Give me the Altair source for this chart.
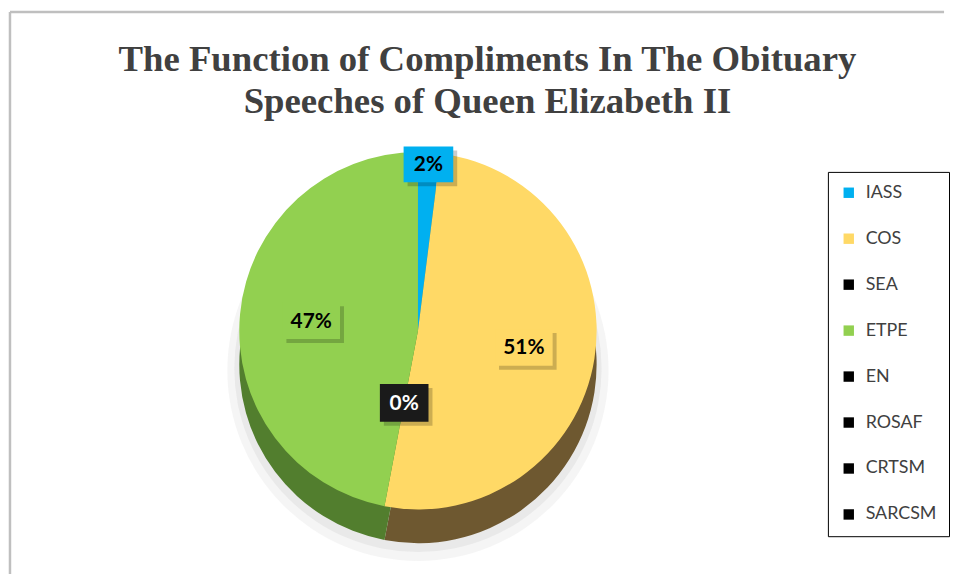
import altair as alt
import pandas as pd

# ---- data ----
categories = ["IASS", "COS", "SEA", "ETPE", "EN", "ROSAF", "CRTSM", "SARCSM"]
shares = [2, 51, 0, 47, 0, 0, 0, 0]
top_colors = ["#00B0F0", "#FFD966", "#000000", "#92D050", "#000000", "#000000", "#000000", "#000000"]
side_colors = ["#00769F", "#6E5830", "#000000", "#527E2E", "#000000", "#000000", "#000000", "#000000"]
title_lines = ["The Function of Compliments In The Obituary", "Speeches of Queen Elizabeth II"]

df = pd.DataFrame({"cat": categories, "share": shares, "idx": list(range(len(categories)))})
one = pd.DataFrame({"k": [0]})

W, H = 942, 567
CX, CY, R, DEPTH = 412, 322, 180, 34

# soft shadow under the pie
shadow1 = alt.Chart(one).mark_arc(theta=0, theta2=6.2832, radius=R + 12, color="#e3e3e3", opacity=0.35).encode(
    x=alt.value(CX), y=alt.value(CY + DEPTH + 6))
shadow2 = alt.Chart(one).mark_arc(theta=0, theta2=6.2832, radius=R + 5, color="#d6d6d6", opacity=0.4).encode(
    x=alt.value(CX), y=alt.value(CY + DEPTH + 4))

# 3D side (darker copy shifted down)
side = alt.Chart(df).mark_arc(radius=R, stroke=None).encode(
    theta=alt.Theta("share:Q", stack=True),
    order=alt.Order("idx:Q"),
    color=alt.Color("cat:N", scale=alt.Scale(domain=categories, range=side_colors), legend=None),
    x=alt.value(CX), y=alt.value(CY + DEPTH),
)

top = alt.Chart(df).mark_arc(radius=R, stroke=None).encode(
    theta=alt.Theta("share:Q", stack=True),
    order=alt.Order("idx:Q"),
    color=alt.Color(
        "cat:N",
        scale=alt.Scale(domain=categories, range=top_colors),
        sort=categories,
        legend=alt.Legend(
            title=None, orient="none", legendX=825, legendY=162,
            symbolType="square", symbolSize=110, symbolStrokeWidth=0,
            labelFont="Lato", labelFontSize=18, labelColor="#404040",
            rowPadding=28.3, padding=12, labelOffset=8,
            strokeColor="#000000", fillColor="#ffffff",
        ),
    ),
    x=alt.value(CX), y=alt.value(CY),
)


def label_layers(cat, r, w, h, bg, fg):
    base = (
        alt.Chart(df)
        .transform_window(cum="sum(share)", sort=[alt.SortField("idx")], frame=[None, 0])
        .transform_calculate(mid="datum.cum - datum.share / 2", lbl="datum.share + '%'")
        .transform_calculate(
            px=f"{CX} + {r} * sin(2 * PI * datum.mid / 100)",
            py=f"{CY} - {r} * cos(2 * PI * datum.mid / 100)",
        )
        .transform_filter(alt.datum.cat == cat)
    )
    enc = dict(x=alt.X("px:Q", scale=None, axis=None), y=alt.Y("py:Q", scale=None, axis=None))
    hw = w / h
    path = f"M{-hw:.3f},-1H{hw:.3f}V1H{-hw:.3f}Z"
    sh = base.mark_point(shape=path, size=h * h, filled=True, color="#000000", opacity=0.2,
                         strokeWidth=0, xOffset=4, yOffset=4).encode(**enc)
    bx = base.mark_point(shape=path, size=h * h, filled=True, color=bg, opacity=1,
                         strokeWidth=0).encode(**enc)
    tx = base.mark_text(font="Lato", fontSize=21, fontWeight="bold", color=fg,
                        baseline="middle", align="center", dy=1).encode(text="lbl:N", **enc)
    return [sh, bx, tx]


labels = []
labels += label_layers("IASS", 168, 50, 36, "#00B0F0", "#000000")
labels += label_layers("COS", 108, 58, 37, "#FFD966", "#000000")
labels += label_layers("ETPE", 108, 58, 37, "#92D050", "#000000")
labels += label_layers("SEA", 74, 49, 38, "#1a1a1a", "#ffffff")

tdf = pd.DataFrame({"t": title_lines, "row": [0, 1]})
title = alt.Chart(tdf).mark_text(
    font="Liberation Serif", fontSize=37, fontWeight="bold", color="#404040",
    align="center", baseline="alphabetic",
).encode(
    text="t:N",
    x=alt.value(482),
    y=alt.Y("row:Q", scale=alt.Scale(domain=[0, 1], range=[60, 103]), axis=None),
)

border_top = alt.Chart(one).mark_rule(color="#bfbfbf", strokeWidth=2.5).encode(
    x=alt.value(1), x2=alt.value(W), y=alt.value(1))
border_left = alt.Chart(one).mark_rule(color="#bfbfbf", strokeWidth=2.5).encode(
    x=alt.value(1), y=alt.value(1), y2=alt.value(H))

chart = alt.layer(
    shadow1, shadow2, side, top, *labels, title, border_top, border_left
).resolve_scale(color="independent").properties(
    width=W, height=H, padding=0
).configure(background="#ffffff").configure_view(stroke=None)

chart.save("out.html", embed_options={"renderer": "svg", "actions": False})
